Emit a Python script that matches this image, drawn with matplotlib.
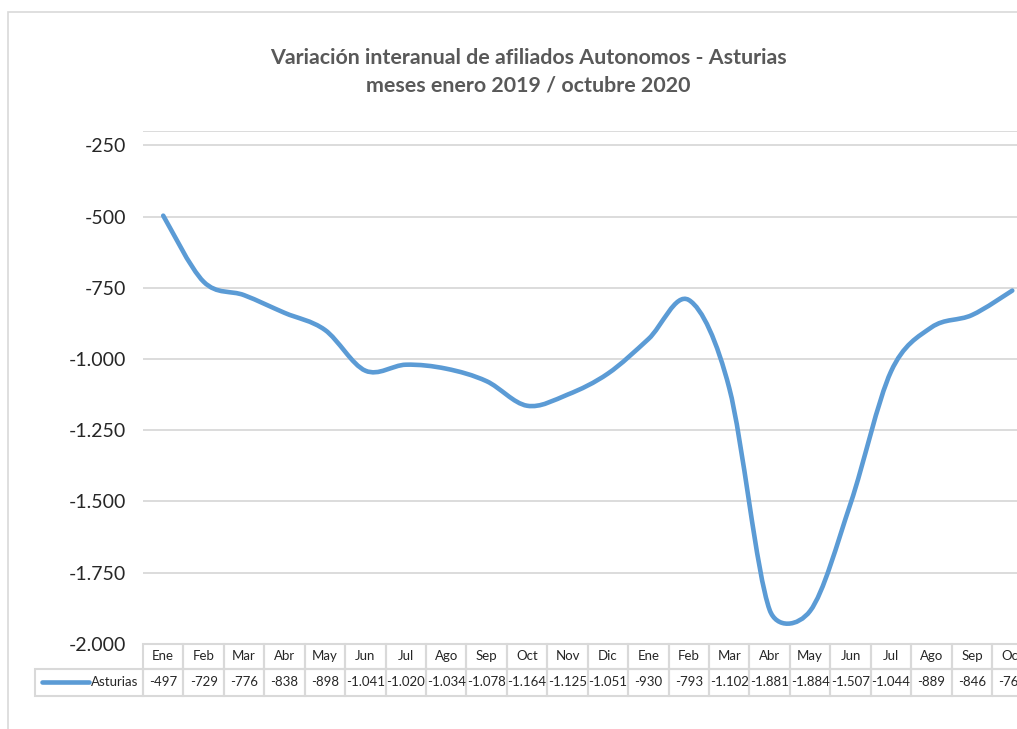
import matplotlib
matplotlib.use("Agg")
import matplotlib.pyplot as plt
import matplotlib.transforms as mtransforms
from matplotlib.path import Path
from matplotlib.patches import PathPatch, Rectangle
from matplotlib.lines import Line2D
import numpy as np

plt.rcParams['font.family'] = ['Lato', 'DejaVu Sans']

months = ['Ene', 'Feb', 'Mar', 'Abr', 'May', 'Jun', 'Jul', 'Ago', 'Sep', 'Oct', 'Nov', 'Dic',
          'Ene', 'Feb', 'Mar', 'Abr', 'May', 'Jun', 'Jul', 'Ago', 'Sep', 'Oct']
asturias = [-497, -729, -776, -838, -898, -1041, -1020, -1034, -1078, -1164, -1125, -1051,
            -930, -793, -1102, -1881, -1884, -1507, -1044, -889, -846, -760]
yticks = [-2000, -1750, -1500, -1250, -1000, -750, -500, -250]
serie = 'Asturias'
titulo = 'Variación interanual de afiliados Autonomos - Asturias\nmeses enero 2019 / octubre 2020'

color_linea = '#5B9BD5'
gris = '#D9D9D9'


def fmt(v):
    return f"{v:,}".replace(",", ".")


W, H = 1017, 729
fig = plt.figure(figsize=(W / 100, H / 100), dpi=100)

# marco del grafico (se corta por la derecha y abajo como en la captura)
fig.patches.append(Rectangle((8 / W, -0.05), 1.1, (H - 12) / H + 0.05, transform=fig.transFigure,
                             fill=False, edgecolor=gris, lw=1.2))

x0, x1 = 143, 1032.5
ytop, ybot = 131, 644
ax = fig.add_axes([x0 / W, (H - ybot) / H, (x1 - x0) / W, (ybot - ytop) / H])

n = len(asturias)
ax.set_xlim(-0.5, n - 0.5)
ax.set_ylim(-2000, -200)

# linea suavizada como Excel: bezier con puntos de control limitados (en pixeles)
sx = (x1 - x0) / n
sy = (ybot - ytop) / 1800.0
P = np.column_stack([np.arange(n) * sx, np.array(asturias) * sy])


def d(a, b):
    return float(np.hypot(*(a - b)))


verts = [(0, asturias[0])]
codes = [Path.MOVETO]
for i in range(n - 1):
    p0 = P[max(i - 1, 0)]
    p1 = P[i]
    p2 = P[i + 1]
    p3 = P[min(i + 2, n - 1)]
    d12 = d(p1, p2)
    d02 = d(p0, p2)
    d13 = d(p1, p3)
    f0 = 1 / 6 if d02 / 6 < d12 / 2 else d12 / 2 / d02
    f3 = 1 / 6 if d13 / 6 < d12 / 2 else d12 / 2 / d13
    c1 = p1 + (p2 - p0) * f0
    c2 = p2 - (p3 - p1) * f3
    for c in (c1, c2, p2):
        verts.append((c[0] / sx, c[1] / sy))
    codes += [Path.CURVE4] * 3
ax.add_patch(PathPatch(Path(verts, codes), fill=False, edgecolor=color_linea, lw=3.3,
                       capstyle='round', joinstyle='round', zorder=3))

ax.set_yticks(yticks)
ax.set_yticklabels([fmt(v) for v in yticks], fontsize=14, color='#262626')
ax.set_xticks([])
ax.tick_params(axis='y', length=0, pad=12)
ax.yaxis.grid(True, color=gris, lw=1.3)
ax.axhline(-200, color=gris, lw=1.3)
for s in ax.spines.values():
    s.set_visible(False)

fig.text(528 / W, 1 - 72 / H, titulo, ha='center', va='center', fontsize=15.4,
         fontweight='bold', color='#595959', linespacing=1.45)

# tabla de datos
tr = mtransforms.blended_transform_factory(ax.transData, ax.transAxes)
ph = ybot - ytop
h1 = 25 / ph
h2 = 26.5 / ph
for i, (m, v) in enumerate(zip(months, asturias)):
    ax.add_patch(Rectangle((i - 0.5, -h1), 1, h1, transform=tr, fill=False,
                           edgecolor=gris, lw=1.5, clip_on=False))
    ax.add_patch(Rectangle((i - 0.5, -h1 - h2), 1, h2, transform=tr, fill=False,
                           edgecolor=gris, lw=1.5, clip_on=False))
    ax.text(i, -h1 / 2, m, transform=tr, ha='center', va='center', fontsize=9.5, color='#262626')
    ax.text(i, -h1 - h2 / 2, fmt(v), transform=tr, ha='center', va='center', fontsize=9.5,
            color='#262626')

xl = -0.5 - (x0 - 35) / sx
ax.add_patch(Rectangle((xl, -h1 - h2), -0.5 - xl, h2, transform=tr, fill=False,
                       edgecolor=gris, lw=1.5, clip_on=False))
ax.add_line(Line2D([-0.5 - (x0 - 42) / sx, -0.5 - (x0 - 89) / sx], [-h1 - h2 / 2] * 2,
                   transform=tr, color=color_linea, lw=3.3, solid_capstyle='round', clip_on=False))
ax.text(-0.5 - 5 / sx, -h1 - h2 / 2, serie, transform=tr, ha='right', va='center',
        fontsize=9.5, color='#262626')

fig.savefig('out.png', dpi=100)
